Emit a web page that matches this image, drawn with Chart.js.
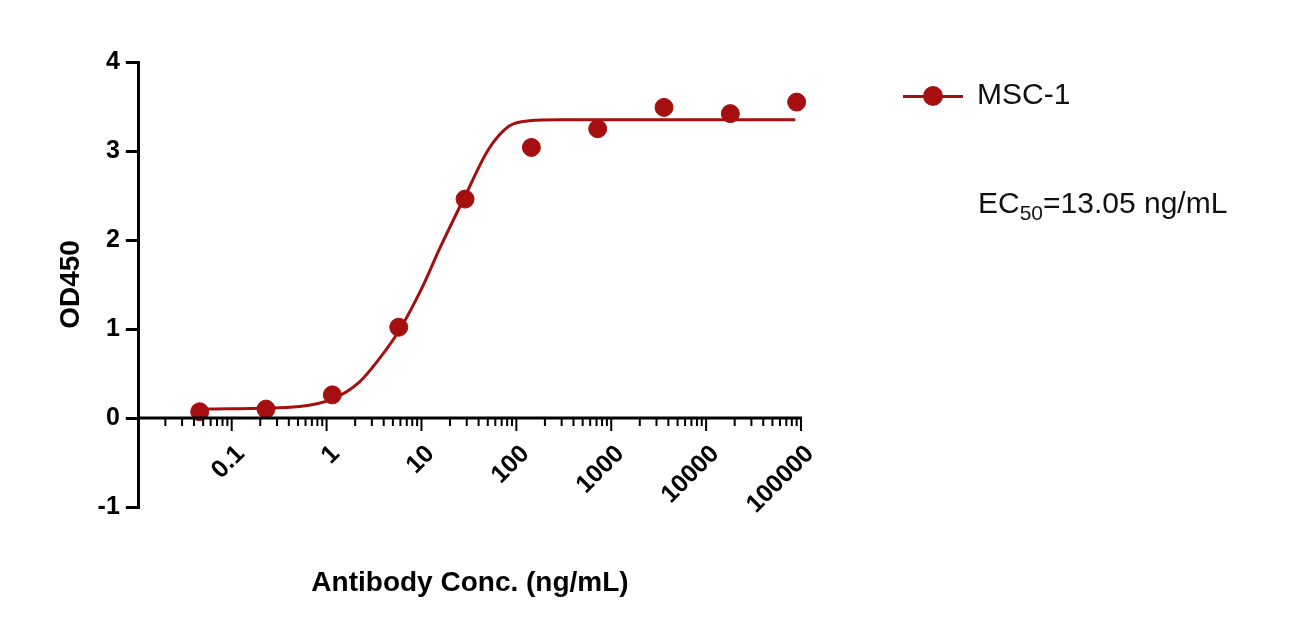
<!DOCTYPE html>
<html><head><meta charset="utf-8">
<script src="https://cdn.jsdelivr.net/npm/chart.js@4"></script>
<style>body{margin:0;background:#fff;font-family:"Liberation Sans",Arial,sans-serif}
#wrap{position:relative;width:1311px;height:636px}
.t{position:absolute;font-size:30px;color:#111}
</style></head><body>
<div id="wrap"><canvas id="c" width="1311" height="636"></canvas>
<div class="t" style="left:903px;top:77px"><span style="display:inline-block;width:60px;height:3px;background:#a50f0f;vertical-align:middle;position:relative;margin-right:14px"><span style="position:absolute;left:20px;top:-9px;width:20px;height:20px;border-radius:50%;background:#a50f0f"></span></span>MSC-1</div>
<div class="t" style="left:978px;top:186px">EC<sub style="font-size:21px">50</sub>=13.05 ng/mL</div>
</div>
<script>
const concX=[0.046,0.23,1.15,5.76,28.8,144,720,3600,18000,90000];
const od=[0.07,0.10,0.26,1.02,2.46,3.04,3.25,3.49,3.42,3.55];
const curveX=[0.052,0.52,1.19,2.2,3.5,5.8,10,15.5,29,51,84,137,280,87000];
const curveY=[0.10,0.13,0.22,0.40,0.65,0.98,1.45,1.90,2.50,3.02,3.28,3.34,3.35,3.35];
const xTickLabels=["0.1","1","10","100","1000","10000","100000"];
const red='#a50f0f';
const xAxisPlugin={id:'xa',afterDraw(ch){
  const c=ch.ctx,s=ch.scales.x,y0=ch.scales.y.getPixelForValue(0);
  c.save();c.strokeStyle='#000';c.lineWidth=3;
  c.beginPath();c.moveTo(s.left,y0);c.lineTo(s.right+1,y0);c.stroke();
  c.lineWidth=2;
  for(let e=-2;e<=5;e++)for(let m=1;m<=9;m++){
    const v=m*Math.pow(10,e); if(v>100000.1)break; if(v<0.0105)continue;
    const p=s.getPixelForValue(v),L=m===1?13:8;
    c.beginPath();c.moveTo(p,y0);c.lineTo(p,y0+L);c.stroke();}
  c.fillStyle='#000';c.font='bold 25px "Liberation Sans",Arial';c.textAlign='right';c.textBaseline='middle';
  xTickLabels.forEach(t=>{const p=s.getPixelForValue(parseFloat(t));
    c.save();c.translate(p+9,y0+32);c.rotate(-Math.PI/4);c.fillText(t,0,0);c.restore();});
  c.font='bold 28px "Liberation Sans",Arial';c.textAlign='center';
  c.fillText('Antibody Conc. (ng/mL)',470,583);
  c.restore();}};
new Chart(document.getElementById('c'),{type:'scatter',
 data:{datasets:[
  {data:curveX.map((x,i)=>({x,y:curveY[i]})),showLine:true,borderColor:red,borderWidth:3,pointRadius:0,cubicInterpolationMode:'monotone',clip:false},
  {data:concX.map((x,i)=>({x,y:od[i]})),backgroundColor:red,borderColor:red,pointRadius:9,showLine:false,clip:false}]},
 options:{responsive:false,animation:false,events:[],
  layout:{padding:{left:50,right:510,top:62,bottom:129}},
  plugins:{legend:{display:false},tooltip:{enabled:false}},
  scales:{
   x:{type:'logarithmic',min:0.0105,max:100000,display:false},
   y:{min:-1,max:4,ticks:{stepSize:1,color:'#000',font:{size:25,weight:'bold',family:'"Liberation Sans",Arial'},padding:6},
      grid:{display:true,drawOnChartArea:false,tickLength:13,color:'#000',lineWidth:3},
      border:{display:true,color:'#000',width:3},
      title:{display:true,text:'OD450',color:'#000',font:{size:28,weight:'bold',family:'"Liberation Sans",Arial'}}}}},
 plugins:[xAxisPlugin]});
</script></body></html>
